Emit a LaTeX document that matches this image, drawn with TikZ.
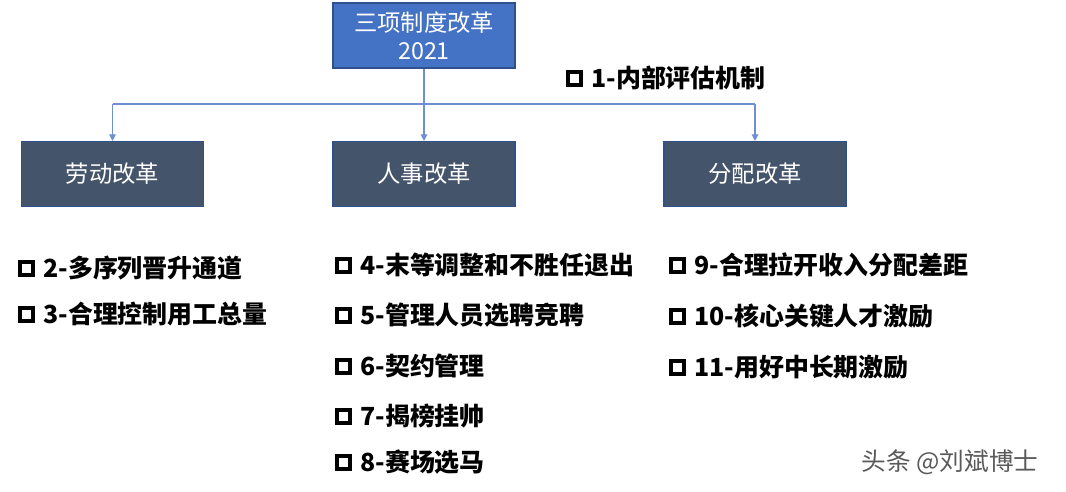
\documentclass[tikz,border=0pt]{standalone}
\usepackage{fontspec}
\setmainfont{Noto Sans CJK SC}
\usetikzlibrary{arrows.meta}
\definecolor{topblue}{HTML}{4472C4}
\definecolor{slate}{HTML}{44546A}
\definecolor{edgeblue}{HTML}{2F528F}
\definecolor{linkblue}{HTML}{6F8FD3}
\newcommand{\sqmark}{\raisebox{3.2pt}{\setlength{\fboxrule}{3pt}\setlength{\fboxsep}{0pt}\fbox{\rule{0pt}{6.8pt}\hspace{6.8pt}}}\hspace{6pt}}

\begin{document}
\begin{tikzpicture}[x=0.75pt,y=-0.75pt,
  plan/.style = {draw=edgeblue,line width=0.8pt,fill=topblue,text=white,
    minimum width=136.5pt,minimum height=48.75pt,align=center,
    font=\fontsize{17.5pt}{21pt}\selectfont},
  unit/.style = {plan,fill=slate},
  item/.style = {anchor=west,inner sep=0pt,font=\bfseries\fontsize{18.7pt}{21pt}\selectfont},
  link/.style = {draw=linkblue,line width=0.9pt}]
\useasboundingbox (0,0) rectangle (1066,492);

\node[plan] (reform) at (424,35.5) {三项制度改革\\2021};
\node[unit] (labour)   at (112.5,174) {劳动改革};
\node[unit] (staff)    at (424,174)   {人事改革};
\node[unit] (income)   at (755,174)   {分配改革};

\coordinate (busL) at (112.5,104);
\coordinate (busM) at (424,104);
\coordinate (busR) at (755,104);

\draw[link] (reform.south) -- (busM);
\draw[link] (busL) -- (busR);
\draw[link,-{Triangle[width=5pt,length=5pt]}] (busL) -- (labour.north);
\draw[link,-{Triangle[width=5pt,length=5pt]}] (busM) -- (staff.north);
\draw[link,-{Triangle[width=5pt,length=5pt]}] (busR) -- (income.north);

\node[item] (i1)  at (566,78)  {\sqmark 1-内部评估机制};
\node[item] (i2)  at (18,268)  {\sqmark 2-多序列晋升通道};
\node[item] (i3)  at (18,314)  {\sqmark 3-合理控制用工总量};
\node[item] (i4)  at (335,265) {\sqmark 4-末等调整和不胜任退出};
\node[item] (i5)  at (335,315) {\sqmark 5-管理人员选聘竞聘};
\node[item] (i6)  at (335,366) {\sqmark 6-契约管理};
\node[item] (i7)  at (335,416) {\sqmark 7-揭榜挂帅};
\node[item] (i8)  at (335,462) {\sqmark 8-赛场选马};
\node[item] (i9)  at (669,265) {\sqmark 9-合理拉开收入分配差距};
\node[item] (i10) at (669,316) {\sqmark 10-核心关键人才激励};
\node[item] (i11) at (669,367) {\sqmark 11-用好中长期激励};

\node[text=black!65,font=\fontsize{18.5pt}{22pt}\selectfont] (mark) at (950,462) {头条 @刘斌博士};
\end{tikzpicture}
\end{document}
